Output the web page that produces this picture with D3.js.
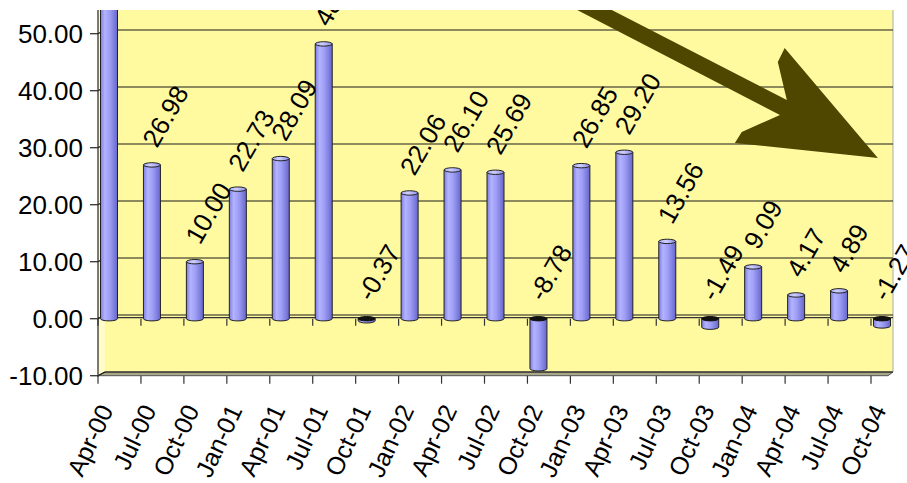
<!DOCTYPE html>
<html>
<head>
<meta charset="utf-8">
<script src="https://cdn.jsdelivr.net/npm/d3@7"></script>
<style>
  html, body { margin: 0; padding: 0; background: #fff; }
  svg { display: block; }
  text { font-family: "Liberation Sans", Arial, sans-serif; fill: #000; }
</style>
</head>
<body>
<svg id="chart" width="907" height="483"></svg>
<script>
// ---- data ----
const categories = ["Apr-00","Jul-00","Oct-00","Jan-01","Apr-01","Jul-01","Oct-01","Jan-02","Apr-02","Jul-02",
                    "Oct-02","Jan-03","Apr-03","Jul-03","Oct-03","Jan-04","Apr-04","Jul-04","Oct-04"];
const values = [61.0, 26.98, 10.00, 22.73, 28.09, 48.21, -0.37, 22.06, 26.10, 25.69,
                -8.78, 26.85, 29.20, 13.56, -1.49, 9.09, 4.17, 4.89, -1.27];
const yTicks = [-10, 0, 10, 20, 30, 40, 50];
// trend arrow annotation, in [category index, value] space
const trendArrow = [[10.26,57.66],[11.06,57.66],[16.04,38.37],[15.83,45.04],[15.99,47.49],
                    [18.16,28.19],[14.83,30.82],[14.99,32.75],[15.88,35.74]];

// ---- layout ----
const W = 907, H = 483;
const plotTop = 10, axisX = 98, wallRight = 893;
const depthX = 7, depthY = 3.7;
const svg = d3.select("#chart");

const x = d3.scalePoint().domain(categories).range([98, 871]);
const xi = d3.scaleLinear().domain([0, categories.length - 1]).range([98, 871]);
const y = d3.scaleLinear().domain([-10, 50]).range([375.7, 33.7]);
const y0 = y(0), yBot = y(-10);
const barW = 17, barShift = 11, ry = 2.2;

const defs = svg.append("defs");
defs.append("clipPath").attr("id", "plotClip").append("rect")
  .attr("x", axisX).attr("y", plotTop).attr("width", wallRight - axisX + 2).attr("height", yBot - plotTop + 2);
defs.append("clipPath").attr("id", "topClip").append("rect")
  .attr("x", 0).attr("y", plotTop).attr("width", W).attr("height", H - plotTop);
const g1 = defs.append("linearGradient").attr("id", "barGrad").attr("x1", 0).attr("x2", 1).attr("y1", 0).attr("y2", 0);
[[0, "#7d7de0"], [0.25, "#b3b3ff"], [0.55, "#9d9df5"], [1, "#6666cc"]]
  .forEach(([o, c]) => g1.append("stop").attr("offset", o).attr("stop-color", c));
const g2 = defs.append("linearGradient").attr("id", "topGrad").attr("x1", 0).attr("x2", 1).attr("y1", 0).attr("y2", 0);
[[0, "#a8a8f5"], [0.4, "#cfcfff"], [1, "#8f8fe8"]]
  .forEach(([o, c]) => g2.append("stop").attr("offset", o).attr("stop-color", c));

// walls
const plot = svg.append("g").attr("clip-path", "url(#plotClip)");
plot.append("rect").attr("x", axisX + depthX).attr("y", plotTop)
  .attr("width", wallRight - axisX - depthX).attr("height", yBot - depthY - plotTop)
  .attr("fill", "#fff9a0");
plot.append("polygon")
  .attr("points", [[axisX, plotTop], [axisX + depthX, plotTop], [axisX + depthX, yBot - depthY], [axisX, yBot]].join(" "))
  .attr("fill", "#fffcc8");
// floor
plot.append("polygon")
  .attr("points", [[axisX, yBot], [axisX + depthX, yBot - depthY], [wallRight, yBot - depthY], [wallRight - 5, yBot]].join(" "))
  .attr("fill", "#a9a78a").attr("stroke", "#555").attr("stroke-width", 1);
// right wall edge
plot.append("line").attr("x1", wallRight).attr("x2", wallRight).attr("y1", plotTop).attr("y2", yBot - depthY)
  .attr("stroke", "#b8b8b0").attr("stroke-width", 1.2);

// gridlines
yTicks.forEach(v => {
  plot.append("line").attr("x1", axisX + depthX).attr("x2", wallRight)
    .attr("y1", y(v) - depthY).attr("y2", y(v) - depthY)
    .attr("stroke", "#1a1a1a").attr("stroke-width", 1.1);
  plot.append("line").attr("x1", axisX).attr("x2", axisX + depthX)
    .attr("y1", y(v)).attr("y2", y(v) - depthY)
    .attr("stroke", "#1a1a1a").attr("stroke-width", 1.1);
});
// zero axis line
plot.append("line").attr("x1", axisX).attr("x2", wallRight).attr("y1", y0 - 1).attr("y2", y0 - 1)
  .attr("stroke", "#333").attr("stroke-width", 1.2);

// bars (cylinders)
const bars = plot.append("g");
categories.forEach((c, i) => {
  const v = values[i];
  const cx = x(c) + barShift, left = cx - barW / 2;
  const yv = y(v);
  const g = bars.append("g");
  if (v >= 0) {
    g.append("path")
      .attr("d", `M${left},${yv} L${left},${y0} A${barW/2},${ry} 0 0 0 ${left+barW},${y0} L${left+barW},${yv} Z`)
      .attr("fill", "url(#barGrad)").attr("stroke", "#222").attr("stroke-width", 1);
    g.append("ellipse").attr("cx", cx).attr("cy", yv).attr("rx", barW / 2).attr("ry", ry)
      .attr("fill", "url(#topGrad)").attr("stroke", "#222").attr("stroke-width", 1);
  } else {
    g.append("path")
      .attr("d", `M${left},${y0} L${left},${yv} A${barW/2},${ry} 0 0 0 ${left+barW},${yv} L${left+barW},${y0} Z`)
      .attr("fill", "url(#barGrad)").attr("stroke", "#222").attr("stroke-width", 1);
    g.append("ellipse").attr("cx", cx).attr("cy", y0).attr("rx", barW / 2).attr("ry", ry)
      .attr("fill", "#111").attr("stroke", "#111").attr("stroke-width", 1);
  }
});

// trend arrow
plot.append("polygon")
  .attr("points", trendArrow.map(([i, v]) => [xi(i), y(v)].join(",")).join(" "))
  .attr("fill", "#4f4600");

// data labels
const labels = svg.append("g").attr("clip-path", "url(#topClip)");
categories.forEach((c, i) => {
  const v = values[i];
  const sx = x(c) + barShift + 5, sy = y(Math.max(v, 0)) - 16;
  labels.append("text")
    .attr("transform", `translate(${sx},${sy}) rotate(-60)`)
    .attr("font-size", 26).attr("text-anchor", "start")
    .text(v.toFixed(2));
});

// y axis
svg.append("line").attr("x1", axisX).attr("x2", axisX).attr("y1", plotTop).attr("y2", yBot + 1)
  .attr("stroke", "#333").attr("stroke-width", 1.3);
yTicks.forEach(v => {
  svg.append("line").attr("x1", axisX - 8).attr("x2", axisX).attr("y1", y(v)).attr("y2", y(v))
    .attr("stroke", "#333").attr("stroke-width", 1.3);
  svg.append("text").attr("x", 83).attr("y", y(v)).attr("dy", "0.36em")
    .attr("text-anchor", "end").attr("font-size", 26).text(v.toFixed(2));
});

// category ticks and labels
categories.forEach(c => {
  const tx = x(c);
  svg.append("line").attr("x1", tx).attr("x2", tx).attr("y1", y0).attr("y2", y0 + 7)
    .attr("stroke", "#333").attr("stroke-width", 1.2);
  svg.append("line").attr("x1", tx).attr("x2", tx).attr("y1", yBot).attr("y2", yBot + 8)
    .attr("stroke", "#333").attr("stroke-width", 1.2);
  svg.append("text")
    .attr("transform", `translate(${tx + 16},410) rotate(-65)`)
    .attr("font-size", 25).attr("text-anchor", "end")
    .text(c);
});
</script>
</body>
</html>
